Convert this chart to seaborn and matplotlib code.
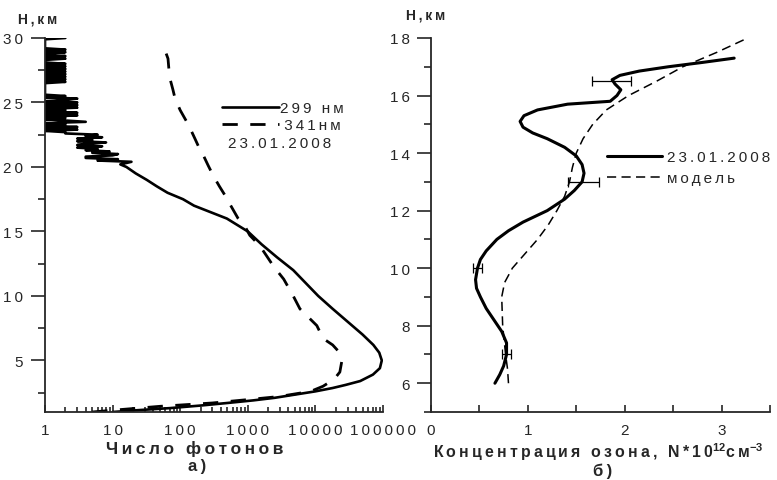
import matplotlib
matplotlib.use("Agg")
import matplotlib.pyplot as plt
import seaborn as sns
from matplotlib.ticker import MultipleLocator, LogLocator, NullFormatter
from matplotlib.lines import Line2D

# === panel a): photon counts vs height ===
h_299 = [1.0, 1.15, 1.3, 1.5, 1.7, 1.9, 2.1, 2.35, 2.6, 2.86, 3.1, 3.4, 3.9, 4.4, 5.0,
         5.6, 6.2, 7.0, 8.0, 9.0, 10.0, 11.0, 12.0, 13.0, 14.0, 15.0, 16.0, 17.0, 17.5,
         18.0, 18.5, 19.0, 19.5, 20.0, 20.2,
         20.4, 20.5, 20.6, 20.7, 20.8, 20.9, 21.0, 21.1, 21.2, 21.3, 21.4, 21.5, 21.6,
         21.7, 21.8, 21.9, 22.0, 22.1, 22.2, 22.3, 22.4, 22.5, 22.6, 22.7, 22.8, 22.9,
         23.0, 23.1, 23.2, 23.3, 23.4, 23.5, 23.6, 23.7, 23.8, 23.9, 24.0, 24.1, 24.2,
         24.3, 24.4, 24.5, 24.6, 24.7, 24.8, 24.9, 25.0, 25.1, 25.2, 25.3, 25.4, 25.5,
         25.6, 25.7, 25.8, 25.9, 26.0, 26.1, 26.2, 26.3, 26.4, 26.5, 26.6, 26.7, 26.8,
         26.9, 27.0, 27.1, 27.2, 27.3, 27.4, 27.5, 27.6, 27.7, 27.8, 27.9, 28.0, 28.1,
         28.2, 28.3, 28.4, 28.5, 28.6, 28.7, 28.8, 28.9, 29.0, 29.1, 29.2, 29.3, 29.4,
         29.5, 29.6, 29.7, 29.8, 29.9, 30.0]
n_299 = [10, 25, 70, 200, 500, 1200, 2500, 5000, 10000, 18000, 28000, 46000, 71000, 90000, 96000,
         88000, 72000, 50000, 30000, 18000, 11000, 7200, 4700, 2700, 1600, 1000, 490, 160, 110,
         65, 45, 32, 22, 16, 13,
         19, 6, 12, 4, 4, 10, 12, 5, 9, 4, 6, 3, 7,
         3, 4, 8, 3, 5, 3, 7, 4, 6, 2, 2, 1, 3,
         1, 3, 1, 2, 1, 4, 2, 1, 2, 1, 3, 1, 3,
         1, 2, 1, 3, 1, 3, 1, 3, 1, 2, 3, 1, 2,
         1, 1, 1, 1, 1, 1, 1, 1, 1, 1, 2, 1, 2,
         1, 2, 1, 2, 1, 2, 1, 2, 1, 2, 1, 2, 1,
         1, 1, 2, 1, 2, 1, 1, 2, 1, 2, 1, 1, 1,
         1, 1, 1, 1, 1, 2]

h_341 = [1.0, 1.2, 1.44, 1.7, 2.0, 2.2, 2.6, 3.0, 3.3, 3.7, 4.1, 4.9, 5.7, 6.2, 6.7,
         7.7, 9.0, 10.0, 11.3, 12.3, 13.1, 13.9, 14.7, 15.2, 16.0, 17.0, 17.8, 18.5,
         19.3, 20.1, 20.9, 21.5, 22.2, 23.0, 23.5, 24.4, 25.3, 26.0, 26.8, 27.6, 28.4,
         29.0, 29.7]
n_341 = [5, 14, 50, 300, 1200, 2900, 8500, 13000, 16000, 20000, 23000, 24500, 22000, 18000, 13000,
         10500, 5900, 4700, 3400, 2400, 1900, 1500, 1070, 950, 720, 560, 460, 380,
         310, 260, 220, 190, 165, 140, 125, 100, 84, 78, 71, 68, 66,
         60, 56]

# === panel b): ozone concentration ===
h_obs = [6.0, 6.3, 6.6, 7.0, 7.4, 7.8, 8.2, 8.6, 9.0, 9.3, 9.6, 10.0, 10.3, 10.6, 11.0,
         11.3, 11.6, 12.0, 12.4, 12.7, 13.0, 13.3, 13.6, 13.9, 14.2, 14.5, 14.7, 14.9,
         15.1, 15.3, 15.5, 15.7, 15.8, 16.0, 16.2, 16.4, 16.55, 16.7, 16.85, 17.0, 17.15, 17.3]
o3_obs = [0.66, 0.71, 0.75, 0.78, 0.78, 0.73, 0.65, 0.57, 0.51, 0.47, 0.46, 0.48, 0.51, 0.57, 0.68,
          0.80, 0.95, 1.20, 1.38, 1.48, 1.56, 1.58, 1.56, 1.50, 1.38, 1.20, 1.05, 0.95,
          0.92, 0.96, 1.10, 1.41, 1.85, 1.92, 1.96, 1.90, 1.87, 1.95, 2.15, 2.45, 2.80, 3.13]

h_model = [6.0, 6.5, 7.0, 8.0, 9.0, 9.5, 10.0, 10.5, 11.0, 11.5, 12.0, 12.5, 13.0, 13.5,
           14.0, 14.5, 15.0, 15.5, 16.0, 16.5, 17.0, 17.5, 18.0]
o3_model = [0.80, 0.79, 0.77, 0.74, 0.73, 0.76, 0.84, 0.97, 1.10, 1.21, 1.30, 1.38, 1.43, 1.46,
            1.50, 1.57, 1.67, 1.81, 2.04, 2.33, 2.60, 2.95, 3.27]

h_err = [16.5, 13.0, 10.0, 7.0]
o3_err_c = [1.86, 1.57, 0.48, 0.78]
o3_err = [0.20, 0.16, 0.05, 0.05]

x_ticks_a = [1, 10, 100, 1000, 10000, 100000]


def sp(s):
    # widely spaced lettering, as in the original
    return "\u2009".join(s)


sns.set_style("ticks")
plt.rcParams["font.family"] = ["Liberation Sans", "DejaVu Sans"]
plt.rcParams["mathtext.fontset"] = "custom"
plt.rcParams["mathtext.rm"] = "Liberation Sans:bold"
plt.rcParams["mathtext.default"] = "rm"

fig = plt.figure(figsize=(7.77, 4.81), dpi=100)
W, H = 777, 481
ax1 = fig.add_axes([45 / W, 1 - 413 / H, (383 - 45) / W, (413 - 39) / H])
ax2 = fig.add_axes([431 / W, 1 - 413 / H, (770 - 431) / W, (413 - 39) / H])

# --- panel a ---
sns.lineplot(x=n_299, y=h_299, orient="y", estimator=None, color="black", lw=1.9, ax=ax1)
sns.lineplot(x=n_341, y=h_341, orient="y", estimator=None, color="black", lw=2.0,
             linestyle=(0, (5.5, 4.5)), ax=ax1)
ax1.set_xscale("log")
ax1.set_xlim(1, 100000)
ax1.set_ylim(1, 30)
ax1.set_xticks(x_ticks_a, [sp(str(t)) for t in x_ticks_a])
ax1.xaxis.set_minor_locator(LogLocator(base=10, subs=range(2, 10)))
ax1.xaxis.set_minor_formatter(NullFormatter())
ax1.yaxis.set_major_locator(MultipleLocator(5))
ax1.yaxis.set_minor_locator(MultipleLocator(2.5))
ax1.set_yticks(ax1.get_yticks(), [sp(str(int(t))) for t in ax1.get_yticks()])
ax1.set_ylim(1, 30)

# --- panel b ---
sns.lineplot(x=o3_obs, y=h_obs, orient="y", estimator=None, color="black", lw=2.2, ax=ax2)
sns.lineplot(x=o3_model, y=h_model, orient="y", estimator=None, color="black", lw=1.1,
             linestyle=(0, (6, 3.5)), ax=ax2)
ax2.errorbar(o3_err_c, h_err, xerr=o3_err, fmt="none", ecolor="black", elinewidth=0.9,
             capsize=3.5, capthick=0.9)
ax2.set_xlim(0, 3.5)
ax2.set_ylim(5, 18)
ax2.xaxis.set_major_locator(MultipleLocator(1))
ax2.xaxis.set_minor_locator(MultipleLocator(0.5))
ax2.yaxis.set_major_locator(MultipleLocator(2))
ax2.yaxis.set_minor_locator(MultipleLocator(1))
ax2.set_yticks([6, 8, 10, 12, 14, 16, 18], [sp(str(t)) for t in [6, 8, 10, 12, 14, 16, 18]])
ax2.set_ylim(5, 18)

for ax in (ax1, ax2):
    sns.despine(ax=ax)
    for s in ("left", "bottom"):
        ax.spines[s].set_linewidth(1.3)
    ax.set_xlabel("")
    ax.set_ylabel("")
    ax.tick_params(axis="y", which="major", direction="out", length=10, width=1.2,
                   pad=6, labelsize=11)
    ax.tick_params(axis="y", which="minor", direction="out", length=5, width=1.2)
    ax.tick_params(axis="x", which="major", direction="in", length=5, width=1.2,
                   pad=8, labelsize=11)
    ax.tick_params(axis="x", which="minor", direction="in", length=3.5, width=1.2)
ax2.tick_params(axis="x", which="minor", length=5)
ax2.tick_params(axis="y", which="major", pad=5)

# --- legends ---
ax1.legend(
    handles=[Line2D([], [], color="black", lw=1.9),
             Line2D([], [], color="black", lw=2.0, linestyle=(0, (5.5, 4.5)))],
    labels=[sp("299 нм"), " " + sp("341нм")],
    loc="upper left", bbox_to_anchor=(222 / W, 1 - 102 / H), bbox_transform=fig.transFigure,
    frameon=False, fontsize=11, handlelength=3.7, handletextpad=0.1, labelspacing=0.2,
    borderpad=0, borderaxespad=0)
fig.text(228 / W, 1 - 144 / H, sp("23.01.2008"), fontsize=11, ha="left", va="center")

ax2.legend(
    handles=[Line2D([], [], color="black", lw=2.2),
             Line2D([], [], color="black", lw=1.1, linestyle=(0, (6, 3.5)))],
    labels=[sp("23.01.2008"), sp("модель")],
    loc="upper left", bbox_to_anchor=(607 / W, 1 - 151 / H), bbox_transform=fig.transFigure,
    frameon=False, fontsize=11, handlelength=3.6, handletextpad=0.3, labelspacing=0.45,
    borderpad=0, borderaxespad=0)

# --- axis titles ---
fig.text(38 / W, 1 - 20 / H, sp("Н,км"), fontsize=10, fontweight="bold", ha="center", va="center")
fig.text(426 / W, 1 - 15 / H, sp("Н,км"), fontsize=10, fontweight="bold", ha="center", va="center")
fig.text(195 / W, 1 - 449 / H, sp("Число фотонов"), fontsize=12.5, fontweight="bold",
         ha="center", va="center")
fig.text(197 / W, 1 - 467 / H, sp("а)"), fontsize=12, fontweight="bold", ha="center", va="center")
fig.text(598 / W, 1 - 452 / H, sp("Концентрация озона, N*10") + r"$^{12}$" + sp("см") + r"$^{-3}$",
         fontsize=11.4, fontweight="bold", ha="center", va="center")
fig.text(603 / W, 1 - 471 / H, sp("б)"), fontsize=12, fontweight="bold", ha="center", va="center")

fig.savefig("out.png", dpi=100)
